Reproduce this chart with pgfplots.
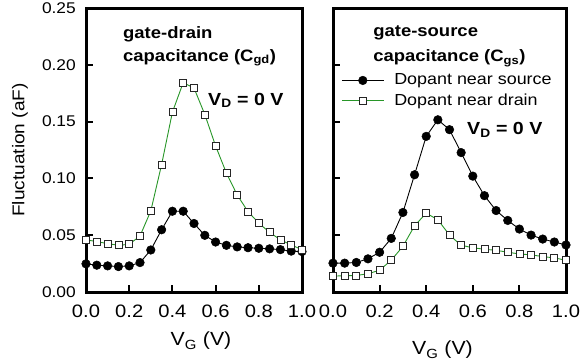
\documentclass[border=0pt]{standalone}
\usepackage{pgfplots}
\pgfplotsset{compat=1.18}
\usepackage{fontspec}
\setmainfont{Liberation Sans}[FakeStretch=1.12]
\definecolor{dgreen}{RGB}{40,150,40}
\newcommand{\fs}[1]{\fontsize{#1}{#1}\selectfont}
\pgfplotsset{
  myaxis/.style={
    scale only axis, height=284pt,
    xmin=0, xmax=1, ymin=0, ymax=0.25,
    clip=false,
    axis line style={line width=3pt},
    tick style={black, line width=2pt},
    major tick length=7pt,
    tick align=inside,
    xtick pos=bottom, ytick pos=left,
    xtick={0,0.2,...,1.0},
    ytick={0,0.05,0.10,0.15,0.20,0.25},
    /pgf/number format/assume math mode=true,
    xticklabel style={font=\fs{18}, anchor=north, inner sep=0pt, yshift=-13pt,
      /pgf/number format/.cd, fixed, fixed zerofill, precision=1},
    yticklabel style={font=\fs{15.5}, anchor=east, inner sep=0pt, xshift=-10pt,
      /pgf/number format/.cd, fixed, fixed zerofill, precision=2},
    xlabel style={font=\fs{19}, at={(rel axis cs:0.5,0)}, anchor=center},
    ylabel style={font=\fs{17}, at={(rel axis cs:0,0.5)}, anchor=center, yshift=66pt},
    every axis plot/.append style={line width=0.9pt},
  },
  src/.style={black, mark=*, mark size=4.3pt, mark options={fill=black, line width=0.5pt}},
  drn/.style={dgreen, mark=square*, mark size=3.5pt, mark options={fill=white, draw=black!85, line width=0.8pt}},
}
\begin{document}
\begin{tikzpicture}[x=1pt,y=1pt]
\useasboundingbox (0,0) rectangle (580,362);
\begin{axis}[myaxis, width=216pt, at={(86pt,70pt)}, anchor=south west,
  xlabel={V\textsubscript{G} (V)}, xlabel style={xshift=7pt, yshift=-49pt},
  ylabel={Fluctuation (aF)}]
\addplot[src] coordinates {(0.00,0.0248)(0.05,0.0236)(0.10,0.0230)(0.15,0.0224)(0.20,0.0230)(0.25,0.0259)(0.30,0.0370)(0.35,0.0548)(0.40,0.0711)(0.45,0.0711)(0.50,0.0603)(0.55,0.0499)(0.60,0.0440)(0.65,0.0411)(0.70,0.0397)(0.75,0.0390)(0.80,0.0385)(0.85,0.0380)(0.90,0.0373)(0.95,0.0360)(1.00,0.0356)};
\addplot[drn] coordinates {(0.00,0.0460)(0.05,0.0443)(0.10,0.0426)(0.15,0.0411)(0.20,0.0420)(0.25,0.0493)(0.30,0.0714)(0.35,0.1122)(0.40,0.1583)(0.45,0.1843)(0.50,0.1796)(0.55,0.1563)(0.60,0.1286)(0.65,0.1047)(0.70,0.0854)(0.75,0.0708)(0.80,0.0606)(0.85,0.0525)(0.90,0.0460)(0.95,0.0414)(1.00,0.0373)};
\node[anchor=base west, font=\fs{16.5}\bfseries, inner sep=0pt] at (rel axis cs:0.171,0.891) {gate-drain};
\node[anchor=base west, font=\fs{16.5}\bfseries, inner sep=0pt] at (rel axis cs:0.171,0.813) {capacitance (C\textsubscript{gd})};
\node[anchor=base west, font=\fs{17.5}\bfseries, inner sep=0pt] at (rel axis cs:0.565,0.658) {V\textsubscript{D} = 0 V};
\end{axis}
\begin{axis}[myaxis, width=233pt, at={(333pt,70pt)}, anchor=south west,
  yticklabels={},
  xlabel={V\textsubscript{G} (V)}, xlabel style={xshift=-7pt, yshift=-58pt},
  legend style={draw=none, fill=none, at={(0.035,0.772)}, anchor=north west, inner sep=0pt,
    font=\fs{16}, row sep=5pt, column sep=9pt, nodes={inner sep=1pt, text depth=0.2em}},
  legend cell align=left,
  legend image code/.code={\draw[mark repeat=2,mark phase=2,#1] plot coordinates {(0pt,0pt) (21pt,0pt) (42pt,0pt)};},
]
\addplot[src] coordinates {(0.00,0.0254)(0.05,0.0254)(0.10,0.0260)(0.15,0.0292)(0.20,0.0350)(0.25,0.0472)(0.30,0.0700)(0.35,0.1032)(0.40,0.1370)(0.45,0.1516)(0.50,0.1429)(0.55,0.1227)(0.60,0.1020)(0.65,0.0848)(0.70,0.0717)(0.75,0.0630)(0.80,0.0554)(0.85,0.0501)(0.90,0.0466)(0.95,0.0440)(1.00,0.0414)};
\addlegendentry{Dopant near source}
\addplot[drn] coordinates {(0.00,0.0140)(0.05,0.0143)(0.10,0.0146)(0.15,0.0160)(0.20,0.0192)(0.25,0.0280)(0.30,0.0402)(0.35,0.0583)(0.40,0.0694)(0.45,0.0636)(0.50,0.0501)(0.55,0.0411)(0.60,0.0390)(0.65,0.0376)(0.70,0.0367)(0.75,0.0350)(0.80,0.0335)(0.85,0.0327)(0.90,0.0312)(0.95,0.0300)(1.00,0.0280)};
\addlegendentry{Dopant near drain}
\node[anchor=base west, font=\fs{16.5}\bfseries, inner sep=0pt] at (rel axis cs:0.172,0.898) {gate-source};
\node[anchor=base west, font=\fs{16.5}\bfseries, inner sep=0pt] at (rel axis cs:0.172,0.81) {capacitance (C\textsubscript{gs})};
\node[anchor=base west, font=\fs{17.5}\bfseries, inner sep=0pt] at (rel axis cs:0.575,0.553) {V\textsubscript{D} = 0 V};
\end{axis}
\end{tikzpicture}
\end{document}
